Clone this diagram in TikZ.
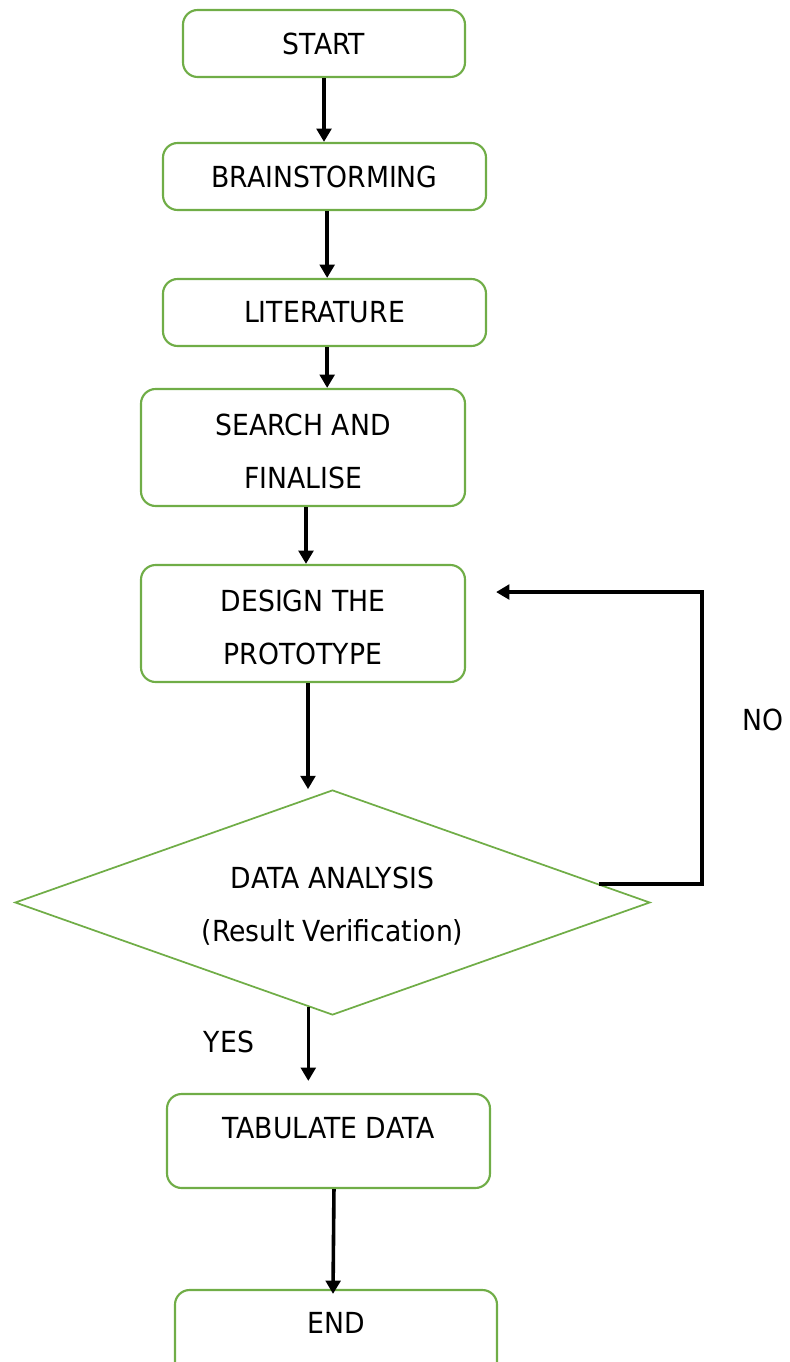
\documentclass[tikz,border=0pt]{standalone}
\usepackage{fontspec}
\setmainfont{DejaVu Sans}[FakeStretch=0.92]
\usetikzlibrary{shapes.geometric,arrows.meta}
\definecolor{boxgreen}{HTML}{70AD47}
\newcommand{\topgap}{\rule{0pt}{21.5pt}}

\begin{document}
\begin{tikzpicture}[x=0.75pt,y=-0.75pt,
        font=\fontsize{21.75pt}{39.75pt}\selectfont,
        box node/.style={rectangle,rounded corners=11pt,draw=boxgreen,line width=1.6pt,
            minimum width=242.25pt,minimum height=50.25pt,inner sep=0pt,align=center},
        decision node/.style={diamond,draw=boxgreen,line width=1.3pt,aspect=2.8,inner sep=0pt,
            minimum width=476.25pt,minimum height=168.75pt,align=center},
        flow line/.style={-{Triangle[length=10pt,width=11pt]},line width=2.7pt}]

    \useasboundingbox (0,0) rectangle (789,1362);

    \node[box node,minimum width=211.5pt] (start) at (324,43.5) {START};
    \node[box node] (brain) at (324.5,176.5) {BRAINSTORMING};
    \node[box node] (lit) at (324.5,312.5) {LITERATURE};
    \node[box node,minimum width=243pt,minimum height=87.75pt] (search) at (303,447.5) {\topgap SEARCH AND\\FINALISE};
    \node[box node,minimum width=243pt,minimum height=87.75pt] (design) at (303,623.5) {\topgap DESIGN THE\\PROTOTYPE};
    \node[decision node] (data) at (332.5,902.5) {\topgap DATA ANALYSIS\\(Result Verification)};
    \node[box node,minimum height=70.5pt,text height=16pt,text depth=19.75pt] (tab) at (328.5,1141) {TABULATE DATA};
    \node[box node,minimum width=241.5pt,minimum height=70.5pt,text height=16pt,text depth=21pt] (end) at (336,1337) {END};
    \node (yes) at (229,1042) {YES};
    \node (no) at (763,720) {NO};

    \draw[flow line] (start.south) -- (start.south |- brain.north);
    \draw[flow line] ([xshift=2pt]brain.south) -- ([xshift=2pt]lit.north);
    \draw[flow line] ([xshift=2pt]lit.south) -- ([xshift=2pt]lit.south |- search.north);
    \draw[flow line] ([xshift=2.25pt]search.south) -- ([xshift=2.25pt]design.north);
    \draw[flow line] ([xshift=3.75pt]design.south) -- ([xshift=3.75pt]design.south |- data.north);
    \draw[flow line] (data.-103.3) -- ([yshift=9pt]data.-103.3 |- tab.north);
    \draw[flow line] ([xshift=4.1pt]tab.south) -- ([xshift=-2.25pt,yshift=-3.75pt]end.north);
    % back to the design step
    \draw[flow line] (data.4.2) -- ++(103.5,0) |- ([xshift=22.5pt,yshift=23.6pt]design.east);
\end{tikzpicture}
\end{document}
